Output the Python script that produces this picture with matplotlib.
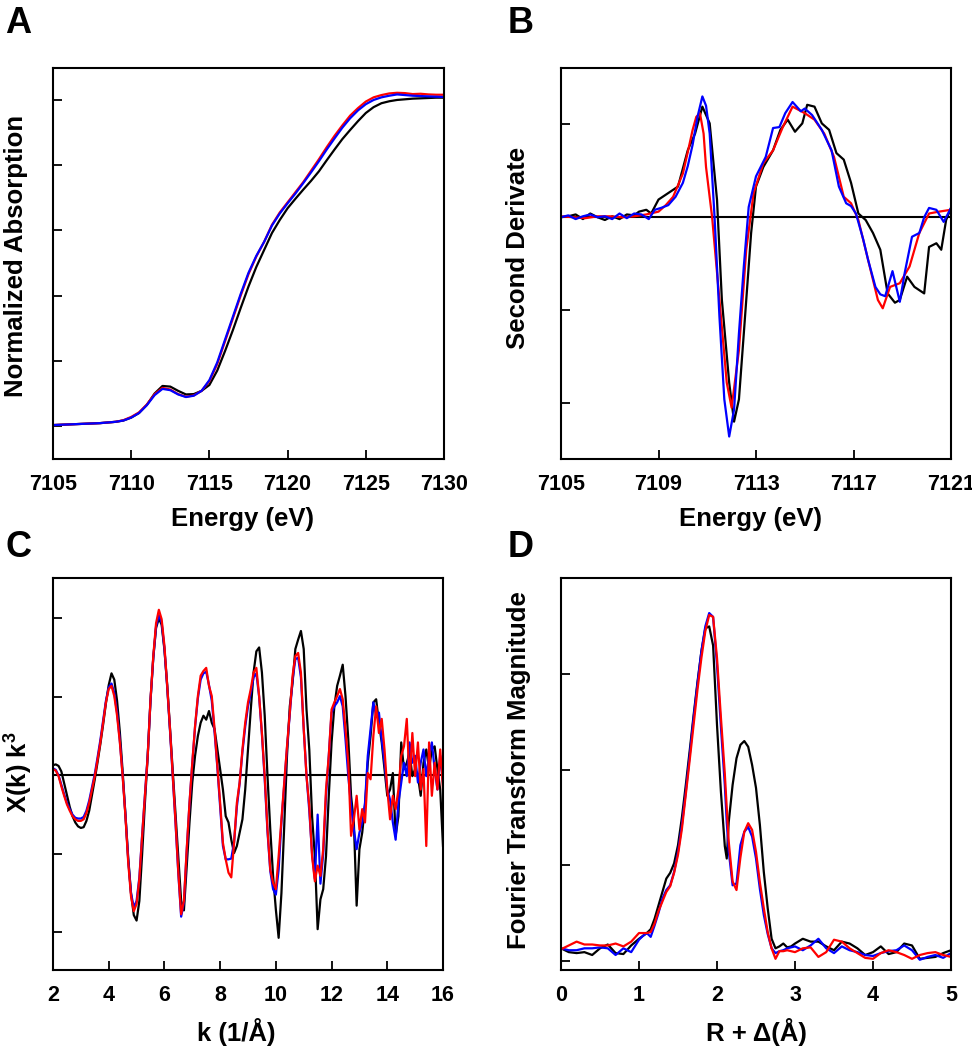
import numpy as np
import matplotlib
matplotlib.use("Agg")
import matplotlib.pyplot as plt

plt.rcParams['font.family'] = ['Liberation Sans', 'DejaVu Sans']
plt.rcParams['font.weight'] = 'bold'
plt.rcParams['mathtext.fontset'] = 'custom'
plt.rcParams['mathtext.rm'] = 'Liberation Sans:bold'
plt.rcParams['mathtext.bf'] = 'Liberation Sans:bold'

# ---- panel A: normalized XANES ----
a_energy = np.arange(7105.0, 7130.01, 0.5)
a_black = [0.003, 0.004, 0.005, 0.006, 0.007, 0.008, 0.009, 0.011, 0.013, 0.017,
           0.026, 0.040, 0.065, 0.100, 0.123, 0.121, 0.108, 0.097, 0.098, 0.108,
           0.126, 0.170, 0.230, 0.294, 0.362, 0.428, 0.488, 0.540, 0.592, 0.632,
           0.668, 0.697, 0.725, 0.752, 0.781, 0.815, 0.848, 0.880, 0.908, 0.935,
           0.960, 0.978, 0.990, 0.996, 1.000, 1.002, 1.004, 1.005, 1.006, 1.007,
           1.007]
a_red = [0.003, 0.004, 0.005, 0.006, 0.007, 0.008, 0.009, 0.011, 0.013, 0.018,
         0.028, 0.042, 0.066, 0.098, 0.117, 0.112, 0.098, 0.090, 0.094, 0.108,
         0.138, 0.190, 0.260, 0.330, 0.400, 0.466, 0.520, 0.565, 0.617, 0.655,
         0.686, 0.717, 0.748, 0.783, 0.818, 0.855, 0.890, 0.922, 0.952, 0.975,
         0.995, 1.008, 1.015, 1.020, 1.022, 1.021, 1.018, 1.019, 1.017, 1.016,
         1.016]
a_blue = [0.003, 0.004, 0.005, 0.006, 0.007, 0.008, 0.009, 0.011, 0.013, 0.017,
          0.026, 0.040, 0.064, 0.095, 0.114, 0.110, 0.097, 0.089, 0.093, 0.108,
          0.141, 0.195, 0.265, 0.335, 0.405, 0.470, 0.522, 0.565, 0.615, 0.652,
          0.683, 0.713, 0.745, 0.778, 0.812, 0.848, 0.882, 0.915, 0.944, 0.968,
          0.987, 1.000, 1.008, 1.013, 1.017, 1.015, 1.013, 1.012, 1.011, 1.010,
          1.009]

# ---- panel B: second derivative ----
b_e_black = [7105.0, 7105.3, 7105.6, 7105.9, 7106.2, 7106.5, 7106.8, 7107.1, 7107.4, 7107.7,
             7108.0, 7108.2, 7108.5, 7108.7, 7109.0, 7109.4, 7109.8, 7110.2, 7110.5, 7110.8,
             7111.1, 7111.4, 7111.6, 7111.9, 7112.1, 7112.3, 7112.5, 7112.8, 7113.0, 7113.3,
             7113.7, 7114.0, 7114.3, 7114.6, 7114.9, 7115.1, 7115.4, 7115.7, 7116.0, 7116.3,
             7116.6, 7116.9, 7117.2, 7117.5, 7117.8, 7118.1, 7118.4, 7118.7, 7118.9, 7119.2,
             7119.5, 7119.9, 7120.1, 7120.4, 7120.6, 7120.8, 7121.0]
b_black = [0.00, 0.01, 0.03, -0.02, 0.04, 0.00, -0.03, 0.01, -0.02, 0.03,
           0.02, 0.06, 0.08, 0.04, 0.19, 0.26, 0.33, 0.72, 0.90, 1.19,
           1.01, 0.19, -0.89, -1.78, -2.20, -1.96, -1.25, -0.17, 0.33, 0.54,
           0.72, 0.94, 1.05, 0.92, 1.01, 1.21, 1.19, 1.01, 0.94, 0.69,
           0.62, 0.37, 0.04, -0.03, -0.17, -0.35, -0.82, -0.92, -0.89, -0.64,
           -0.75, -0.82, -0.32, -0.28, -0.35, -0.03, 0.10]
b_e_red = [7105.0, 7105.5, 7106.0, 7106.5, 7107.0, 7107.5, 7108.0, 7108.5, 7109.0, 7109.3,
           7109.6, 7110.0, 7110.2, 7110.4, 7110.55, 7110.7, 7110.85, 7110.95, 7111.2, 7111.5,
           7111.8, 7112.0, 7112.3, 7112.6, 7112.9, 7113.3, 7113.7, 7114.1, 7114.5, 7115.0,
           7115.4, 7115.8, 7116.2, 7116.6, 7116.9, 7117.2, 7117.6, 7118.0, 7118.2, 7118.5,
           7118.9, 7119.3, 7119.7, 7120.1, 7120.5, 7121.0]
b_red = [0.01, 0.00, -0.01, 0.01, 0.01, 0.00, 0.01, 0.03, 0.06, 0.13,
         0.22, 0.47, 0.70, 0.94, 1.08, 1.12, 0.90, 0.54, 0.00, -0.89,
         -1.78, -2.05, -1.43, -0.35, 0.26, 0.58, 0.72, 0.97, 1.19, 1.12,
         1.05, 0.90, 0.65, 0.22, 0.15, -0.03, -0.46, -0.89, -0.98, -0.75,
         -0.71, -0.53, -0.17, 0.04, 0.06, 0.08]
b_e_blue = [7105.0, 7105.3, 7105.6, 7105.9, 7106.2, 7106.5, 7106.8, 7107.1, 7107.4, 7107.7,
            7108.0, 7108.3, 7108.6, 7108.85, 7109.1, 7109.4, 7109.7, 7110.0, 7110.2, 7110.4,
            7110.6, 7110.8, 7110.95, 7111.1, 7111.3, 7111.5, 7111.7, 7111.9, 7112.1, 7112.3,
            7112.5, 7112.7, 7113.0, 7113.4, 7113.7, 7113.96, 7114.2, 7114.5, 7114.84, 7115.0,
            7115.3, 7115.7, 7116.1, 7116.4, 7116.7, 7116.9, 7117.1, 7117.4, 7117.6, 7117.9,
            7118.1, 7118.3, 7118.6, 7118.9, 7119.1, 7119.4, 7119.7, 7119.9, 7120.1, 7120.4,
            7120.7, 7121.0]
b_blue = [0.00, 0.02, -0.02, 0.01, 0.03, 0.00, 0.01, -0.02, 0.04, -0.01,
          0.04, 0.03, -0.02, 0.08, 0.10, 0.13, 0.22, 0.37, 0.55, 0.78,
          1.08, 1.30, 1.20, 0.90, 0.00, -1.07, -1.96, -2.36, -2.07, -1.25,
          -0.53, 0.11, 0.44, 0.65, 0.96, 0.97, 1.12, 1.24, 1.14, 1.17,
          1.10, 0.94, 0.72, 0.33, 0.15, 0.12, 0.04, -0.24, -0.46, -0.75,
          -0.83, -0.85, -0.58, -0.91, -0.60, -0.21, -0.17, 0.00, 0.10, 0.08,
          -0.05, 0.10]

# ---- panel C: EXAFS chi(k) k^3 ----
c_k = np.round(np.arange(2.0, 16.05, 0.1), 1)
c_black = [0.13, 0.14, 0.12, 0.05, -0.10, -0.25, -0.40, -0.52, -0.60, -0.65,
           -0.67, -0.66, -0.58, -0.45, -0.25, -0.05, 0.17, 0.40, 0.65, 0.92,
           1.15, 1.30, 1.22, 0.95, 0.55, 0.05, -0.50, -1.05, -1.50, -1.78,
           -1.85, -1.60, -1.00, -0.35, 0.25, 0.95, 1.50, 1.88, 2.00, 1.92,
           1.60, 1.15, 0.60, 0.05, -0.50, -1.05, -1.60, -1.72, -1.15, -0.60,
           -0.09, 0.25, 0.50, 0.67, 0.76, 0.71, 0.82, 0.67, 0.59, 0.33,
           0.08, -0.18, -0.52, -0.60, -0.82, -0.99, -0.90, -0.73, -0.56, -0.18,
           0.33, 0.84, 1.31, 1.58, 1.63, 1.31, 0.76, -0.01, -0.69, -1.28,
           -1.71, -2.07, -1.50, -0.65, 0.25, 0.88, 1.18, 1.61, 1.73, 1.84,
           1.61, 0.84, 0.33, -0.52, -1.03, -1.96, -1.58, -1.45, -1.03, -0.26,
           0.42, 0.88, 1.14, 1.27, 1.41, 1.01, 0.46, -0.26, -0.60, -1.66,
           -0.94, -0.73, -0.39, 0.16, 0.50, 0.93, 0.97, 0.67, 0.42, 0.08,
           -0.26, -0.18, 0.03, -0.77, -0.52, 0.42, 0.08, 0.16, 0.29, -0.01,
           0.08, -0.01, -0.26, 0.16, 0.33, 0.08, 0.33, 0.37, 0.08, -0.18,
           -0.90]
c_blue = [0.09, 0.07, 0.00, -0.12, -0.24, -0.35, -0.43, -0.50, -0.54, -0.55,
          -0.55, -0.53, -0.45, -0.32, -0.15, 0.02, 0.23, 0.45, 0.70, 0.95,
          1.12, 1.17, 1.05, 0.80, 0.44, 0.00, -0.50, -1.08, -1.50, -1.68,
          -1.60, -1.30, -0.76, -0.25, 0.26, 0.96, 1.50, 1.90, 2.04, 1.95,
          1.62, 1.12, 0.57, -0.03, -0.62, -1.26, -1.80, -1.62, -0.96, -0.36,
          0.15, 0.62, 0.98, 1.22, 1.30, 1.32, 1.15, 0.95, 0.55, 0.10,
          -0.40, -0.90, -1.07, -1.07, -1.06, -0.85, -0.40, -0.10, 0.30, 0.62,
          0.88, 1.05, 1.25, 1.30, 1.00, 0.52, -0.05, -0.72, -1.22, -1.45,
          -1.52, -1.20, -0.60, -0.12, 0.35, 0.78, 1.22, 1.48, 1.50, 1.25,
          0.60, 0.00, -0.45, -1.00, -1.32, -0.50, -1.38, -1.00, -0.26, 0.25,
          0.80, 0.88, 0.93, 1.01, 0.88, 0.46, -0.01, -0.39, -0.69, -0.94,
          -0.73, -0.60, -0.35, 0.25, 0.59, 0.93, 0.76, 0.80, 0.46, 0.16,
          -0.18, -0.31, -0.60, -0.82, -0.35, -0.09, 0.16, -0.01, 0.42, 0.16,
          0.25, -0.09, 0.16, 0.33, -0.01, 0.25, 0.42, 0.08, -0.18, 0.25,
          -0.09]
c_red = [0.08, 0.06, -0.01, -0.14, -0.26, -0.37, -0.45, -0.52, -0.56, -0.58,
         -0.58, -0.56, -0.48, -0.35, -0.18, -0.01, 0.20, 0.42, 0.67, 0.93,
         1.10, 1.14, 1.01, 0.76, 0.42, -0.01, -0.52, -1.11, -1.54, -1.73,
         -1.64, -1.32, -0.77, -0.26, 0.25, 0.97, 1.52, 1.94, 2.11, 1.99,
         1.65, 1.14, 0.59, -0.01, -0.60, -1.24, -1.77, -1.60, -0.94, -0.35,
         0.16, 0.63, 1.01, 1.27, 1.33, 1.37, 1.14, 1.01, 0.59, 0.12,
         -0.35, -0.86, -1.07, -1.24, -1.30, -0.86, -0.35, -0.09, 0.33, 0.67,
         0.93, 1.10, 1.31, 1.37, 1.01, 0.54, -0.01, -0.69, -1.20, -1.37,
         -1.45, -1.03, -0.56, -0.09, 0.37, 0.80, 1.27, 1.52, 1.56, 1.31,
         0.59, -0.01, -0.39, -1.03, -1.35, -1.15, -1.28, -0.94, -0.18, 0.25,
         0.84, 0.93, 1.01, 1.10, 0.97, 0.59, 0.16, -0.77, -0.56, -0.26,
         -0.69, -0.43, -0.60, 0.03, -0.05, 0.50, 0.88, 0.54, 0.72, 0.33,
         -0.18, -0.56, -0.26, -0.43, -0.18, 0.25, 0.37, 0.72, -0.09, 0.54,
         -0.01, 0.42, -0.18, 0.08, -0.90, 0.42, -0.26, 0.16, -0.18, 0.33,
         -0.18]

# ---- panel D: Fourier transform magnitude ----
d_r = [0.0, 0.1, 0.2, 0.3, 0.4, 0.5, 0.6, 0.7, 0.8, 0.9, 1.0,
       1.05, 1.1, 1.15, 1.2, 1.25, 1.3, 1.35, 1.4, 1.45, 1.5, 1.55,
       1.6, 1.65, 1.7, 1.75, 1.8, 1.85, 1.9, 1.95, 2.0, 2.05, 2.1,
       2.125,
       2.15, 2.2, 2.25, 2.3, 2.35, 2.4, 2.45, 2.5, 2.55, 2.6, 2.65,
       2.7, 2.75, 2.8, 2.85, 2.9, 2.95, 3.0,
       3.1, 3.2, 3.3, 3.4, 3.5, 3.6, 3.7, 3.8, 3.9, 4.0,
       4.1, 4.2, 4.3, 4.4, 4.5, 4.6, 4.7, 4.8, 4.9, 5.0]
d_black = [0.13, 0.09, 0.08, 0.09, 0.06, 0.13, 0.17, 0.08, 0.07, 0.16, 0.23,
           0.26, 0.29, 0.33, 0.44, 0.58, 0.72, 0.86, 0.92, 1.02, 1.21, 1.50,
           1.84, 2.20, 2.57, 2.92, 3.24, 3.48, 3.50, 3.30, 2.47, 1.77, 1.20,
           1.07,
           1.45, 1.84, 2.12, 2.26, 2.30, 2.24, 2.05, 1.81, 1.42, 0.93, 0.55,
           0.23, 0.13, 0.15, 0.18, 0.14, 0.15, 0.18,
           0.23, 0.20, 0.20, 0.15, 0.11, 0.20, 0.18, 0.13, 0.06, 0.09,
           0.15, 0.07, 0.09, 0.18, 0.16, 0.02, 0.03, 0.04, 0.08, 0.11]
d_blue = [0.13, 0.11, 0.11, 0.13, 0.13, 0.14, 0.13, 0.06, 0.13, 0.09, 0.22,
          0.26, 0.29, 0.25, 0.37, 0.50, 0.65, 0.74, 0.79, 0.93, 1.14, 1.42,
          1.77, 2.15, 2.54, 2.90, 3.24, 3.50, 3.64, 3.60, 3.10, 2.45, 1.84,
          1.45,
          1.15, 0.79, 0.81, 1.21, 1.35, 1.40, 1.30, 1.07, 0.75, 0.48, 0.28,
          0.13, 0.08, 0.10, 0.11, 0.13, 0.14, 0.15,
          0.11, 0.16, 0.23, 0.13, 0.08, 0.15, 0.11, 0.09, 0.06, 0.05,
          0.08, 0.10, 0.11, 0.16, 0.11, 0.01, 0.04, 0.06, 0.03, 0.08]
d_red = [0.12, 0.16, 0.20, 0.17, 0.17, 0.16, 0.16, 0.18, 0.15, 0.20, 0.29,
         0.29, 0.29, 0.30, 0.39, 0.52, 0.62, 0.72, 0.78, 0.92, 1.11, 1.38,
         1.74, 2.10, 2.47, 2.84, 3.17, 3.45, 3.62, 3.60, 3.17, 2.55, 1.96,
         1.60,
         1.25, 0.83, 0.74, 1.08, 1.35, 1.44, 1.37, 1.14, 0.82, 0.55, 0.30,
         0.13, 0.02, 0.10, 0.10, 0.11, 0.10, 0.09,
         0.13, 0.14, 0.04, 0.09, 0.22, 0.20, 0.13, 0.08, 0.03, 0.02,
         0.08, 0.11, 0.09, 0.06, 0.02, 0.06, 0.08, 0.09, 0.06, 0.04]

W, H = 972, 1050
fig = plt.figure(figsize=(W / 100, H / 100), dpi=100)


def add_ax(x0, y0, x1, y1):
    ax = fig.add_axes([x0 / W, 1 - y1 / H, (x1 - x0) / W, (y1 - y0) / H])
    for s in ax.spines.values():
        s.set_linewidth(1.5)
    ax.tick_params(direction='in', length=6.5, width=1.3, labelsize=15.5, pad=10.5)
    ax.tick_params(axis='y', labelleft=False)
    return ax


def ftext(x, y, s, **kw):
    fig.text(x / W, 1 - y / H, s, fontweight='bold', **kw)


lw = 1.6

# A
ax = add_ax(53, 68, 444, 459)
ax.plot(a_energy, a_black, color='black', lw=lw)
ax.plot(a_energy, a_red, color='red', lw=lw)
ax.plot(a_energy, a_blue, color='blue', lw=lw)
ax.set_xlim(7105, 7130)
ax.set_ylim(-0.101, 1.098)
ax.set_xticks([7105, 7110, 7115, 7120, 7125, 7130])
ax.set_yticks([0, 0.2, 0.4, 0.6, 0.8, 1.0])

# B
ax = add_ax(561, 68, 951, 459)
ax.axhline(0, color='black', lw=1.5)
ax.plot(b_e_black, b_black, color='black', lw=lw)
ax.plot(b_e_red, b_red, color='red', lw=lw)
ax.plot(b_e_blue, b_blue, color='blue', lw=lw)
ax.set_xlim(7105, 7121)
ax.set_ylim(-2.602, 1.606)
ax.set_xticks([7105, 7109, 7113, 7117, 7121])
ax.set_yticks([-2, -1, 0, 1])

# C
ax = add_ax(53, 578, 443, 970)
ax.axhline(0, color='black', lw=1.5)
ax.plot(c_k, c_black, color='black', lw=lw)
ax.plot(c_k, c_blue, color='blue', lw=lw)
ax.plot(c_k, c_red, color='red', lw=lw)
ax.set_xlim(2, 16)
ax.set_ylim(-2.48, 2.515)
ax.set_xticks([2, 4, 6, 8, 10, 12, 14, 16])
ax.set_yticks([-2, -1, 0, 1, 2])

# D
ax = add_ax(561, 578, 951, 970)
ax.plot(d_r, d_black, color='black', lw=lw)
ax.plot(d_r, d_blue, color='blue', lw=lw)
ax.plot(d_r, d_red, color='red', lw=lw)
ax.set_xlim(0, 5)
ax.set_ylim(-0.097, 4.007)
ax.set_xticks([0, 1, 2, 3, 4, 5])
ax.set_yticks([0, 1, 2, 3])

# axis labels
ftext(16, 256, 'Normalized Absorption', rotation=90, ha='center', va='center', fontsize=18.5)
ftext(518, 248, 'Second Derivate', rotation=90, ha='center', va='center', fontsize=18.5)
ftext(18, 772, r'X(k) k$^{3}$', rotation=90, ha='center', va='center', fontsize=18.5)
ftext(519, 770, 'Fourier Transform Magnitude', rotation=90, ha='center', va='center', fontsize=18.5)
ftext(242, 526, 'Energy (eV)', ha='center', va='baseline', fontsize=18.5)
ftext(750, 526, 'Energy (eV)', ha='center', va='baseline', fontsize=18.5)
ftext(236, 1041, 'k (1/Å)', ha='center', va='baseline', fontsize=18.5)
ftext(756, 1041, 'R + Δ(Å)', ha='center', va='baseline', fontsize=18.5)

# panel letters
ftext(5, 33, 'A', ha='left', va='baseline', fontsize=26)
ftext(508, 33, 'B', ha='left', va='baseline', fontsize=26)
ftext(5, 557, 'C', ha='left', va='baseline', fontsize=26)
ftext(508, 557, 'D', ha='left', va='baseline', fontsize=26)

fig.savefig('out.png', dpi=100)
